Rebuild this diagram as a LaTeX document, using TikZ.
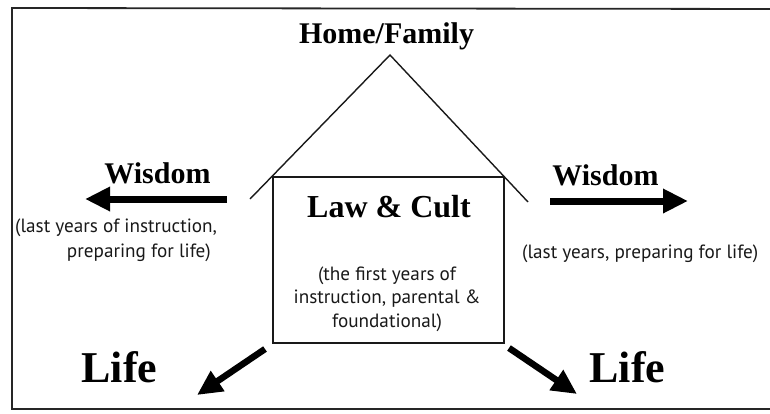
\documentclass[tikz,border=0pt]{standalone}
\usepackage{fontspec}
\setmainfont{Liberation Serif}
\newfontfamily\notefont{PT Sans}
\usetikzlibrary{arrows.meta}

\tikzset{
  frame/.style={line width=1.8pt, draw=black!85},
  houseline/.style={line width=1.4pt, draw=black!90},
  title/.style={font=\bfseries\fontsize{30}{32}\selectfont, anchor=base, inner sep=0pt},
  wisdom/.style={font=\bfseries\fontsize{30}{32}\selectfont, anchor=base, inner sep=0pt},
  lawcult/.style={font=\bfseries\fontsize{32}{34}\selectfont, anchor=base, inner sep=0pt},
  life/.style={font=\bfseries\fontsize{44}{46}\selectfont, anchor=base, inner sep=0pt},
  note/.style={font=\notefont\fontsize{19.2}{23.5}\selectfont, anchor=base, inner sep=0pt, text=black!90},
  fatarrow/.style={line width=7pt, -{Triangle[length=25pt,width=23pt]}},
}

\begin{document}
\begin{tikzpicture}[x=1pt, y=-1pt]
  \useasboundingbox (0,0) rectangle (770,413);

  % outer frame (right side runs off the page)
  \draw[frame] (790,9) -- (12,8) -- (12,409) -- (790,409);

  % roof
  \coordinate (roofL) at (250,199);
  \coordinate (apex)  at (390,55);
  \coordinate (roofR) at (528,202);
  \draw[houseline] (roofL) -- (apex) -- (roofR);

  % walls of the house
  \node[houseline, draw, rectangle, minimum width=231pt, minimum height=166pt,
        inner sep=0pt] (house) at (388.5,260) {};

  % labels
  \node[title]   (home)   at (386.5,43)  {Home/Family};
  \node[lawcult] (law)    at (389,217)   {Law \& Cult};
  % multi-line note: its base anchor sits on the last line
  \node[note, align=center] (first) at (387,327)
        {(the first years of\\instruction, parental \&\\foundational)};

  \node[wisdom] (wisL) at (157.5,183) {Wisdom};
  \node[wisdom] (wisR) at (605.5,185) {Wisdom};

  \node[note, anchor=base west] (lastL1) at (15,232)  {(last years of instruction,};
  \node[note, anchor=base east] (lastL2) at (211,257) {preparing for life)};
  \node[note, anchor=base west] (lastR)  at (522,258) {(last years, preparing for life)};

  \node[life] (lifeL) at (119.5,382) {Life};
  \node[life] (lifeR) at (627.5,382) {Life};

  % arrows
  \coordinate (wlS) at (227,199);
  \coordinate (wlE) at (85,199);
  \coordinate (wrS) at (550,201);
  \coordinate (wrE) at (688,201);
  \draw[fatarrow] (wlS) -- (wlE);
  \draw[fatarrow] (wrS) -- (wrE);

  \coordinate (llS) at (265,349);
  \coordinate (llE) at (197,395);
  \coordinate (lrS) at (509,348);
  \coordinate (lrE) at (577,394);
  \draw[fatarrow, line width=6.5pt] (llS) -- (llE);
  \draw[fatarrow, line width=6.5pt] (lrS) -- (lrE);
\end{tikzpicture}
\end{document}
